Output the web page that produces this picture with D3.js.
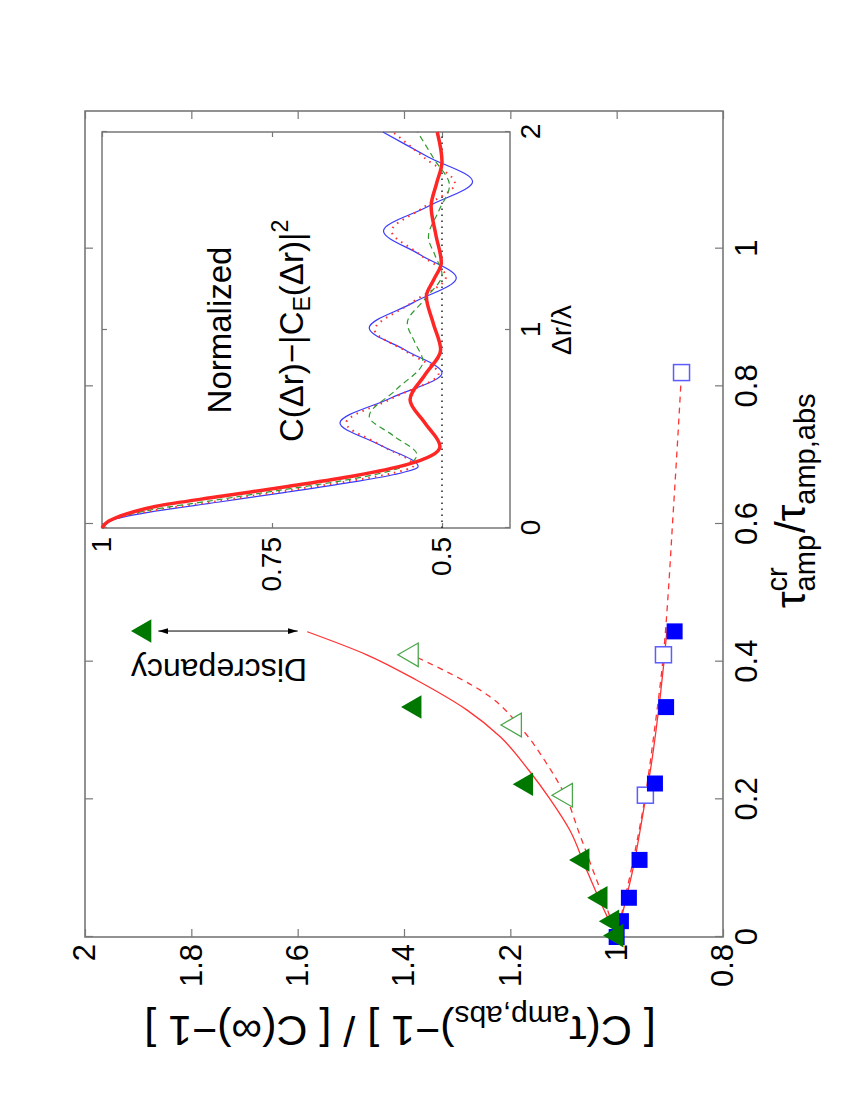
<!DOCTYPE html>
<html>
<head>
<meta charset="utf-8">
<script src="https://cdn.jsdelivr.net/npm/d3@7"></script>
<style>
  body { margin: 0; background: #fff; }
  svg { display: block; }
  text { font-family: "Liberation Sans", Arial, Helvetica, sans-serif; fill: #000; }
</style>
</head>
<body>
<svg id="chart" width="852" height="1102"></svg>
<script>
// ---- main panel data: [tau_cr / tau_abs, normalised C] ----
var triFilled = [[0.002, 1.0], [0.023, 1.008], [0.057, 1.03], [0.112, 1.064], [0.222, 1.17], [0.334, 1.38], [0.4445, 1.888]];
var triOpen = [[0.206, 1.096], [0.308, 1.192], [0.41, 1.386]];
var sqFilled = [[0.0, 1.0], [0.023, 0.992], [0.057, 0.977], [0.112, 0.957], [0.223, 0.928], [0.334, 0.907], [0.444, 0.891]];
var sqOpen = [[0.206, 0.946], [0.41, 0.912], [0.82, 0.878]];

var triFit = [[0, 1.0], [0.05, 1.03], [0.1, 1.058], [0.155, 1.088], [0.2, 1.125], [0.243, 1.166], [0.291, 1.219], [0.33, 1.282], [0.373, 1.376], [0.41, 1.47], [0.4435, 1.582]];
var triFitDashed = [[0, 1.0], [0.05, 1.022], [0.1, 1.046], [0.15, 1.07], [0.206, 1.097], [0.25, 1.13], [0.3, 1.176], [0.35, 1.24], [0.41, 1.386]];
var sqFit = [[0, 1.0], [0.05, 0.984], [0.1, 0.969], [0.15, 0.957], [0.2, 0.946], [0.25, 0.935], [0.3, 0.926], [0.35, 0.918], [0.4, 0.911], [0.45, 0.905]];
var sqFitDashed = [[0, 1.0], [0.05, 0.986], [0.1, 0.972], [0.206, 0.946], [0.3, 0.929], [0.41, 0.912], [0.5, 0.903], [0.6, 0.895], [0.7, 0.887], [0.82, 0.878]];
var discrepancy = [[0.4445, 1.862], [0.4445, 1.60]];

var xTicks = [0, 0.2, 0.4, 0.6, 0.8, 1];
var yTicks = [0.8, 1, 1.2, 1.4, 1.6, 1.8, 2];

// ---- inset data: [dr / lambda, normalised correlation] ----
var insetBlue = [[0, 1], [0.04, 0.985], [0.08, 0.93], [0.13, 0.83], [0.18, 0.73], [0.23, 0.635], [0.27, 0.57], [0.311, 0.535], [0.42, 0.592], [0.53, 0.65], [0.657, 0.575], [0.783, 0.5], [0.897, 0.553], [1.01, 0.607], [1.137, 0.543], [1.263, 0.479], [1.38, 0.532], [1.5, 0.586], [1.625, 0.52], [1.75, 0.455], [1.875, 0.521], [2.0, 0.587]];
var insetRedDotted = [[0, 1], [0.04, 0.986], [0.085, 0.93], [0.135, 0.832], [0.185, 0.735], [0.235, 0.64], [0.275, 0.575], [0.315, 0.542], [0.42, 0.591], [0.53, 0.641], [0.655, 0.573], [0.78, 0.505], [0.89, 0.552], [1.0, 0.599], [1.135, 0.546], [1.27, 0.494], [1.385, 0.534], [1.5, 0.574], [1.62, 0.527], [1.74, 0.481], [1.87, 0.526], [2.0, 0.572]];
var insetGreen = [[0, 1], [0.04, 0.987], [0.09, 0.93], [0.14, 0.835], [0.19, 0.74], [0.24, 0.645], [0.285, 0.58], [0.33, 0.545], [0.37, 0.537], [0.467, 0.572], [0.564, 0.607], [0.7, 0.567], [0.841, 0.528], [0.938, 0.54], [1.035, 0.551], [1.157, 0.525], [1.28, 0.5], [1.375, 0.51], [1.47, 0.52], [1.6, 0.505], [1.73, 0.489], [1.865, 0.512], [2.0, 0.536]];
var insetRedThick = [[0, 1], [0.035, 0.99], [0.07, 0.965], [0.11, 0.92], [0.16, 0.825], [0.21, 0.727], [0.264, 0.628], [0.32, 0.552], [0.365, 0.516], [0.412, 0.503], [0.53, 0.525], [0.648, 0.547], [0.774, 0.525], [0.9, 0.502], [1.035, 0.513], [1.17, 0.523], [1.255, 0.512], [1.34, 0.501], [1.48, 0.509], [1.625, 0.516], [1.74, 0.508], [1.85, 0.5], [2.0, 0.507]];
var insetRef = [[0, 0.5], [2, 0.5]];

var insetXTicks = [0, 1, 2];
var insetYTicks = [0.5, 0.75, 1];

// the figure is drawn upright (1102 x 852) and then turned a quarter left
var svg = d3.select('#chart');
var g = svg.append('g').attr('transform', 'translate(0,1102) rotate(-90)');

var fmt = d3.format('~g');
var x = d3.scaleLinear().domain([0, 1.2]).range([165, 991]);
var y = d3.scaleLinear().domain([0.8, 2]).range([723, 85]);

var xi = d3.scaleLinear().domain([0, 2]).range([574, 970]);
var yi = d3.scaleLinear().domain([0.4, 1]).range([510, 102]);

var line = d3.line().x(function (d) { return x(d[0]); }).y(function (d) { return y(d[1]); }).curve(d3.curveMonotoneX);
var lineIn = d3.line().x(function (d) { return xi(d[0]); }).y(function (d) { return yi(d[1]); }).curve(d3.curveMonotoneX);

function styleAxis(sel, size) {
  sel.select('.domain').remove();
  sel.selectAll('.tick line').attr('stroke', '#777').attr('stroke-width', 1.2);
  sel.selectAll('.tick text').attr('font-size', size).attr('fill', '#000');
}

// ---- main axes ----
g.append('g').attr('transform', 'translate(0,723)')
  .call(d3.axisBottom(x).tickValues(xTicks).tickFormat(fmt).tickSize(-8).tickPadding(12))
  .call(styleAxis, 31);
g.append('g').attr('transform', 'translate(0,85)')
  .call(d3.axisTop(x).tickValues(xTicks).tickFormat('').tickSize(-8))
  .call(styleAxis, 31);
g.append('g').attr('transform', 'translate(165,0)')
  .call(d3.axisLeft(y).tickValues(yTicks).tickFormat(fmt).tickSize(-8).tickPadding(7))
  .call(styleAxis, 31);
g.append('g').attr('transform', 'translate(991,0)')
  .call(d3.axisRight(y).tickValues(yTicks).tickFormat('').tickSize(-8))
  .call(styleAxis, 31);

g.append('rect')
  .attr('x', x(0)).attr('y', y(2))
  .attr('width', x(1.2) - x(0)).attr('height', y(0.8) - y(2))
  .attr('fill', 'none').attr('stroke', '#777').attr('stroke-width', 1.6);

// ---- fit curves ----
g.append('path').datum(triFit).attr('d', line)
  .attr('fill', 'none').attr('stroke', '#ff3333').attr('stroke-width', 1.3);
g.append('path').datum(triFitDashed).attr('d', line)
  .attr('fill', 'none').attr('stroke', '#ff3333').attr('stroke-width', 1.3).attr('stroke-dasharray', '6,5');
g.append('path').datum(sqFit).attr('d', line)
  .attr('fill', 'none').attr('stroke', '#ff3333').attr('stroke-width', 1.3);
g.append('path').datum(sqFitDashed).attr('d', line)
  .attr('fill', 'none').attr('stroke', '#ff3333').attr('stroke-width', 1.3).attr('stroke-dasharray', '6,5');

// ---- markers ----
var sq = 16;
g.selectAll('.sq-open').data(sqOpen).enter().append('rect')
  .attr('x', function (d) { return x(d[0]) - sq / 2; })
  .attr('y', function (d) { return y(d[1]) - sq / 2; })
  .attr('width', sq).attr('height', sq)
  .attr('fill', '#fff').attr('stroke', '#5c5cff').attr('stroke-width', 1.5);
g.selectAll('.sq-filled').data(sqFilled).enter().append('rect')
  .attr('x', function (d) { return x(d[0]) - sq / 2; })
  .attr('y', function (d) { return y(d[1]) - sq / 2; })
  .attr('width', sq).attr('height', sq)
  .attr('fill', '#0000ff');

var tri = d3.symbol().type(d3.symbolTriangle).size(240);
g.selectAll('.tri-open').data(triOpen).enter().append('path')
  .attr('d', tri)
  .attr('transform', function (d) { return 'translate(' + x(d[0]) + ',' + y(d[1]) + ')'; })
  .attr('fill', '#fff').attr('stroke', '#4ca64c').attr('stroke-width', 1.3);
g.selectAll('.tri-filled').data(triFilled).enter().append('path')
  .attr('d', tri)
  .attr('transform', function (d) { return 'translate(' + x(d[0]) + ',' + y(d[1]) + ')'; })
  .attr('fill', '#007800');

// ---- discrepancy arrow ----
var defs = svg.append('defs');
defs.append('marker')
  .attr('id', 'head')
  .attr('viewBox', '0 0 10 6')
  .attr('refX', 10).attr('refY', 3)
  .attr('markerWidth', 10).attr('markerHeight', 6)
  .attr('markerUnits', 'userSpaceOnUse')
  .attr('orient', 'auto-start-reverse')
  .append('path').attr('d', 'M0,0L10,3L0,6Z').attr('fill', '#000');

g.append('line')
  .attr('x1', x(discrepancy[0][0])).attr('y1', y(discrepancy[0][1]))
  .attr('x2', x(discrepancy[1][0])).attr('y2', y(discrepancy[1][1]))
  .attr('stroke', '#000').attr('stroke-width', 1)
  .attr('marker-start', 'url(#head)').attr('marker-end', 'url(#head)');

g.append('text')
  .attr('transform', 'translate(443,219) rotate(-90)')
  .attr('text-anchor', 'middle').attr('font-size', 32)
  .text('Discrepancy');

// ---- main axis labels ----
var yl = g.append('text')
  .attr('transform', 'translate(86,400) rotate(-90)')
  .attr('text-anchor', 'middle').attr('font-size', 43);
yl.append('tspan').text('[ C(τ');
yl.append('tspan').attr('font-size', 30).attr('dy', 10).text('amp,abs');
yl.append('tspan').attr('dy', -10).text(')−1 ] / [ C(∞)−1 ]');

var xl = g.append('g');
var cursor = 494, base = 805;
function put(str, size, dy) {
  var t = xl.append('text').attr('x', cursor).attr('y', base + dy).attr('font-size', size).text(str);
  return t.node().getComputedTextLength();
}
cursor += put('τ', 42, 0);
var wSup = put('cr', 29, -18);
var wSub = put('amp', 29, 10);
cursor += Math.max(wSup, wSub) + 2;
cursor += put('/τ', 42, 0);
put('amp,abs', 29, 10);

// ---- inset ----
var inset = g.append('g');
inset.append('rect')
  .attr('x', xi(0)).attr('y', yi(1))
  .attr('width', xi(2) - xi(0)).attr('height', yi(0.4) - yi(1))
  .attr('fill', '#fff').attr('stroke', '#777').attr('stroke-width', 1.5);

inset.append('g').attr('transform', 'translate(0,' + yi(0.4) + ')')
  .call(d3.axisBottom(xi).tickValues(insetXTicks).tickFormat(fmt).tickSize(-5).tickPadding(10))
  .call(styleAxis, 28);
inset.append('g').attr('transform', 'translate(0,' + yi(1) + ')')
  .call(d3.axisTop(xi).tickValues(insetXTicks).tickFormat('').tickSize(-5))
  .call(styleAxis, 28);
inset.append('g').attr('transform', 'translate(' + xi(0) + ',0)')
  .call(d3.axisLeft(yi).tickValues(insetYTicks).tickFormat(fmt).tickSize(-5).tickPadding(9))
  .call(styleAxis, 28);
inset.append('g').attr('transform', 'translate(' + xi(2) + ',0)')
  .call(d3.axisRight(yi).tickValues(insetYTicks).tickFormat('').tickSize(-5))
  .call(styleAxis, 28);

inset.append('path').datum(insetRef).attr('d', lineIn)
  .attr('fill', 'none').attr('stroke', '#222').attr('stroke-width', 1.5)
  .attr('stroke-dasharray', '1.5,4.5');
inset.append('path').datum(insetBlue).attr('d', lineIn)
  .attr('fill', 'none').attr('stroke', '#3a3aff').attr('stroke-width', 1.2);
inset.append('path').datum(insetRedDotted).attr('d', lineIn)
  .attr('fill', 'none').attr('stroke', '#ff3030').attr('stroke-width', 2)
  .attr('stroke-dasharray', '1.5,5');
inset.append('path').datum(insetGreen).attr('d', lineIn)
  .attr('fill', 'none').attr('stroke', '#2f9a2f').attr('stroke-width', 1.2)
  .attr('stroke-dasharray', '6,4');
inset.append('path').datum(insetRedThick).attr('d', lineIn)
  .attr('fill', 'none').attr('stroke', '#ff2626').attr('stroke-width', 3.5);

inset.append('text')
  .attr('x', 772).attr('y', 231).attr('text-anchor', 'middle').attr('font-size', 33)
  .text('Normalized');

var ct = inset.append('text').attr('x', 660).attr('y', 303).attr('font-size', 33);
ct.append('tspan').text('C(Δr)−|C');
ct.append('tspan').attr('font-size', 23).attr('dy', 7).text('E');
ct.append('tspan').attr('dy', -7).text('(Δr)|');
ct.append('tspan').attr('font-size', 23).attr('dy', -15).text('2');

inset.append('text')
  .attr('x', 772).attr('y', 571).attr('text-anchor', 'middle').attr('font-size', 28)
  .text('Δr/λ');
</script>
</body>
</html>
